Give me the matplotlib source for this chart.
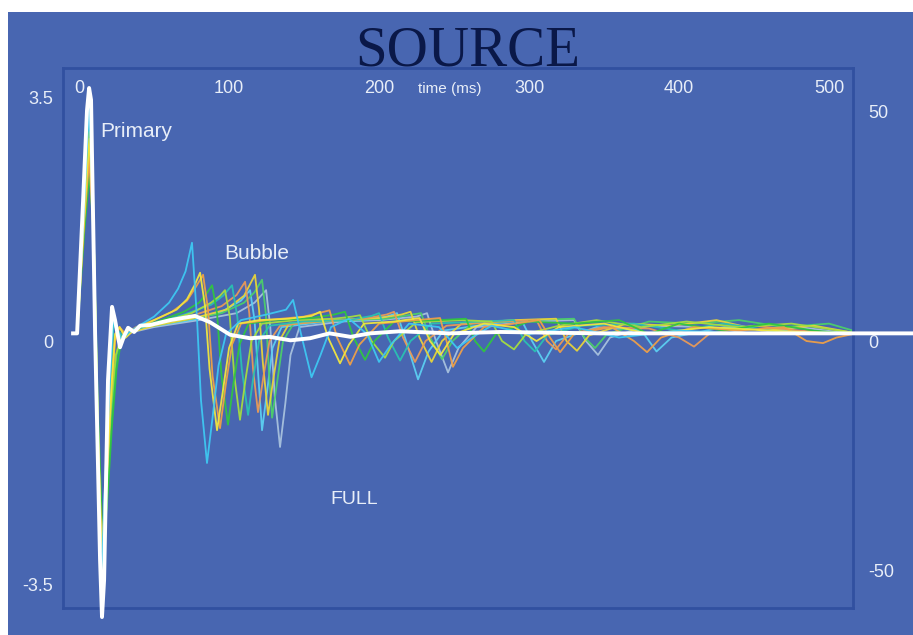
import matplotlib.pyplot as plt
from matplotlib.patches import Rectangle
from matplotlib.transforms import blended_transform_factory

plt.rcParams['font.family'] = ['Liberation Sans', 'DejaVu Sans']

# ---- data: time (ms), amplitude (left axis units) ----
x_ticks = [0, 100, 200, 300, 400, 500]
left_ticks = [-3.5, 0, 3.5]
right_ticks = [-50, 0, 50]

full = [(-4, 0.11), (-1.3, 0.11), (2.7, 2.02), (5.3, 3.31), (6.7, 3.63), (8.0, 3.46),
        (10.7, 0.11), (14.0, -3.14), (15.3, -3.96), (16.7, -3.43), (19.3, -0.56),
        (22.0, 0.49), (24.0, 0.30), (27.3, -0.09), (30.0, 0.07), (32.7, 0.19),
        (36.7, 0.13), (40.7, 0.22), (47.3, 0.23), (60.7, 0.30), (77.3, 0.36),
        (87.3, 0.27), (100.7, 0.09), (114, 0.04), (127, 0.06), (141, 0.01),
        (154, 0.04), (167, 0.11), (181, 0.06), (194, 0.11), (214, 0.14),
        (247, 0.11), (281, 0.13), (347, 0.11), (414, 0.11), (516, 0.11), (556, 0.11)]

cyan = [(-4, 0.1), (-1.3, 0.1), (3.3, 1.9), (6.7, 3.4), (9.3, 2.0), (12, -1.0), (14.7, -3.5),
        (17.3, -2.1), (20.7, -0.5), (22.7, 0.3), (25.3, 0.15), (28.7, 0.02), (33, 0.12),
        (40, 0.22), (50, 0.35), (60, 0.55), (66, 0.75), (71, 1.0), (75.3, 1.41), (78.7, 0.3),
        (81.3, -0.85), (85.3, -1.75), (89, -1.1), (93, -0.35), (98, 0.1), (108, 0.3),
        (125, 0.38), (138, 0.45), (142.7, 0.59), (148, 0.1), (155, -0.52), (161, -0.2),
        (168, 0.2), (180, 0.32), (192, 0.1), (200, -0.3), (208, -0.05), (220, 0.25),
        (240, 0.2), (252, -0.1), (262, 0.05), (275, 0.22), (300, 0.1), (330, 0.2),
        (360, 0.05), (400, 0.15), (450, 0.1), (516, 0.1)]

yellow = [(-4, 0.1), (-1.3, 0.1), (3.5, 1.8), (6.9, 2.9), (9.5, 1.8), (12.3, -1.0), (15, -3.0),
          (17.8, -2.2), (21.5, -0.7), (24, 0.1), (27, 0.2), (31, 0.05), (36, 0.15), (45, 0.25),
          (55, 0.35), (65, 0.45), (72, 0.6), (77, 0.8), (80.7, 0.98), (84, 0.5), (87, -0.4),
          (92, -1.28), (96, -0.7), (100, -0.1), (106, 0.25), (120, 0.3), (140, 0.32),
          (155, 0.36), (160.7, 0.42), (166, 0.05), (174, -0.32), (180, -0.05), (190, 0.25),
          (210, 0.28), (227, 0.33), (234, 0.0), (241, -0.2), (250, 0.1), (270, 0.25),
          (290, 0.2), (305, 0.0), (320, 0.2), (350, 0.25), (380, 0.1), (420, 0.2),
          (460, 0.15), (516, 0.1)]

orange = [(-4, 0.1), (-1.3, 0.1), (3.4, 1.7), (6.8, 2.6), (9.5, 1.6), (12.2, -1.1), (15, -2.9),
          (17.6, -2.3), (21, -0.8), (24, 0.0), (27, 0.2), (31, 0.1), (38, 0.2), (50, 0.3),
          (62, 0.42), (72, 0.58), (78, 0.78), (82.7, 0.95), (86, 0.45), (89, -0.5),
          (94, -1.25), (98, -0.6), (102, -0.05), (108, 0.25), (125, 0.3), (150, 0.35),
          (167, 0.44), (172, 0.05), (180.7, -0.34), (187, -0.05), (200, 0.25), (225, 0.3),
          (240.7, 0.33), (245, 0.0), (249.3, -0.37), (256, -0.1), (270, 0.2), (290, 0.25),
          (307, 0.3), (314, 0.05), (320.7, -0.16), (330, 0.1), (355, 0.2), (370, 0.0),
          (378.7, -0.16), (388, 0.05), (410, 0.2), (440, 0.15), (470, 0.2), (485, 0.0),
          (496, -0.03), (505, 0.05), (516, 0.1)]

green = [(-4, 0.1), (-1.3, 0.1), (3.6, 1.6), (7, 2.4), (9.8, 1.5), (12.6, -1.0), (15.4, -2.7),
         (18.5, -2.4), (22, -1.2), (25, -0.4), (28, 0.0), (32, 0.1), (40, 0.2), (55, 0.3),
         (70, 0.42), (80, 0.55), (85, 0.68), (88.7, 0.8), (92, 0.4), (95, -0.5), (99.3, -1.2),
         (103, -0.6), (107, -0.05), (113, 0.25), (130, 0.3), (155, 0.33), (170, 0.38),
         (177.3, 0.42), (183, 0.05), (190.7, -0.27), (197, 0.0), (210, 0.28), (240, 0.3),
         (258, 0.32), (264, 0.0), (270, -0.15), (278, 0.1), (300, 0.28), (330, 0.25),
         (360, 0.3), (380, 0.1), (400, 0.25), (430, 0.15), (460, 0.25), (490, 0.15), (516, 0.1)]

lime = [(-4, 0.1), (-1.3, 0.1), (3.4, 1.9), (6.8, 3.0), (9.4, 1.9), (12.2, -1.0), (14.9, -3.2),
        (17.7, -2.6), (21, -1.0), (24.5, -0.2), (28, 0.05), (32, 0.12), (42, 0.22), (60, 0.3),
        (75, 0.4), (88, 0.55), (94, 0.65), (97.3, 0.73), (100.5, 0.35), (103.5, -0.5),
        (107.3, -1.13), (111, -0.55), (115, 0.0), (122, 0.25), (145, 0.3), (170, 0.32),
        (182, 0.35), (187.3, 0.37), (195, 0.0), (204, -0.24), (210, 0.0), (225, 0.27),
        (255, 0.3), (275, 0.28), (282, 0.0), (290, -0.12), (298, 0.1), (320, 0.22),
        (345, 0.3), (375, 0.2), (405, 0.28), (440, 0.2), (475, 0.25), (516, 0.12)]

teal = [(-4, 0.1), (-1.3, 0.1), (3.3, 2.0), (6.7, 3.2), (9.3, 2.0), (12, -1.0), (14.7, -3.3),
        (17.4, -2.3), (20.8, -0.6), (23, 0.25), (26, 0.15), (30, 0.05), (36, 0.15), (50, 0.25),
        (70, 0.38), (88, 0.52), (96, 0.65), (102, 0.8), (105.5, 0.35), (108.5, -0.4),
        (112.7, -1.06), (116, -0.55), (120, 0.0), (127, 0.22), (150, 0.28), (180, 0.3),
        (195, 0.36), (200, 0.4), (206, 0.05), (214, -0.28), (221, 0.0), (235, 0.25),
        (270, 0.28), (290, 0.3), (297, 0.0), (304, -0.15), (312, 0.08), (335, 0.22),
        (370, 0.25), (400, 0.15), (430, 0.25), (470, 0.12), (516, 0.1)]

salmon = [(-4, 0.1), (-1.3, 0.1), (3.5, 1.7), (6.9, 2.7), (9.6, 1.7), (12.4, -1.0), (15.2, -2.9),
          (18, -2.3), (21.4, -0.8), (24, 0.05), (27, 0.2), (31, 0.05), (38, 0.18), (55, 0.27),
          (75, 0.36), (95, 0.5), (105, 0.66), (110.7, 0.85), (113.5, 0.4), (116, -0.4),
          (119.3, -1.02), (123, -0.5), (127, 0.0), (134, 0.22), (160, 0.28), (190, 0.32),
          (205, 0.38), (210, 0.42), (216, 0.05), (224, -0.3), (231, 0.0), (245, 0.22),
          (280, 0.28), (305, 0.3), (312, 0.0), (318, -0.12), (326, 0.1), (350, 0.2),
          (380, 0.18), (400, 0.05), (410, -0.08), (420, 0.1), (450, 0.22), (480, 0.15), (516, 0.1)]

gold = [(-4, 0.1), (-1.3, 0.1), (3.3, 2.1), (6.7, 3.3), (9.3, 2.1), (12, -1.0), (14.7, -3.4),
        (17.4, -2.2), (20.7, -0.5), (22.7, 0.3), (25.3, 0.15), (29, 0.02), (34, 0.12), (50, 0.22),
        (75, 0.32), (98, 0.45), (110, 0.65), (117.3, 0.95), (120, 0.45), (122.5, -0.3),
        (126, -1.06), (129.5, -0.55), (133.5, 0.0), (140, 0.25), (170, 0.3), (200, 0.33),
        (215, 0.38), (221, 0.42), (227, 0.05), (235, -0.3), (242, 0.0), (255, 0.25),
        (290, 0.3), (318, 0.32), (325, 0.0), (332, -0.14), (340, 0.08), (365, 0.25),
        (395, 0.22), (425, 0.3), (455, 0.15), (490, 0.22), (516, 0.12)]

green2 = [(-4, 0.1), (-1.3, 0.1), (3.5, 1.8), (6.9, 2.8), (9.5, 1.8), (12.3, -1.0), (15.1, -3.0),
          (18, -2.5), (21.8, -1.0), (25, -0.2), (28.5, 0.05), (33, 0.12), (45, 0.2), (70, 0.3),
          (95, 0.4), (110, 0.55), (117, 0.7), (122, 0.88), (124.5, 0.4), (126.5, -0.4),
          (128.7, -1.1), (132, -0.6), (136, 0.0), (143, 0.25), (175, 0.3), (205, 0.32),
          (222, 0.38), (228, 0.4), (234, 0.05), (242, -0.26), (249, 0.0), (262, 0.25),
          (300, 0.3), (330, 0.32), (337, 0.05), (344, -0.1), (352, 0.1), (380, 0.28),
          (410, 0.25), (440, 0.3), (470, 0.2), (500, 0.25), (516, 0.15)]

greyblue = [(-4, 0.1), (-1.3, 0.1), (3.3, 2.0), (6.7, 3.1), (9.3, 2.0), (12, -1.0), (14.7, -3.2),
            (17.4, -2.2), (20.7, -0.5), (22.7, 0.3), (25.3, 0.15), (29, 0.02), (34, 0.12),
            (50, 0.2), (80, 0.3), (105, 0.4), (117, 0.55), (124.7, 0.73), (127.5, 0.2),
            (130.5, -0.8), (134, -1.52), (137.5, -0.9), (141, -0.2), (147, 0.2), (175, 0.28),
            (200, 0.3), (225, 0.35), (232, 0.4), (238, 0.0), (246, -0.45), (253, -0.1),
            (265, 0.2), (300, 0.28), (330, 0.3), (338, 0.0), (346, -0.2), (354, 0.05),
            (380, 0.22), (420, 0.2), (450, 0.1), (480, 0.2), (516, 0.1)]

skyblue = [(-4, 0.1), (-1.3, 0.1), (3.3, 2.2), (6.7, 3.45), (9.3, 2.2), (12, -1.0), (14.7, -3.5),
           (17.4, -2.0), (20.7, -0.4), (22.7, 0.35), (25.3, 0.15), (29, 0.02), (34, 0.15),
           (50, 0.22), (75, 0.3), (95, 0.42), (108, 0.58), (114, 0.73), (117, 0.3),
           (119.5, -0.5), (122, -1.28), (125.5, -0.7), (129, -0.1), (135, 0.2), (165, 0.28),
           (190, 0.3), (205, 0.35), (212, 0.4), (218, 0.0), (226, -0.55), (233, -0.15),
           (243, 0.15), (275, 0.25), (295, 0.3), (302, 0.0), (310, -0.3), (318, 0.0),
           (345, 0.2), (375, 0.15), (385, -0.15), (395, 0.05), (430, 0.2), (470, 0.15), (516, 0.1)]

traces = [(greyblue, '#a8c2de'), (skyblue, '#5ccff2'), (green2, '#4ccf6a'), (gold, '#e8d43a'),
          (salmon, '#e99a58'), (teal, '#2ac2b2'), (lime, '#a6de3e'), (green, '#30c640'),
          (orange, '#efa048'), (yellow, '#f2e63e'), (cyan, '#3ec8f2')]

BLUE = '#4866b1'
EDGE = '#3150a0'
LABEL = '#e8eef8'

fig = plt.figure(figsize=(9.13, 6.35), dpi=100, facecolor='white')
fig.patches.append(Rectangle((8 / 913, 0), 1, 1 - 12 / 635, transform=fig.transFigure,
                             facecolor=BLUE, edgecolor='none', zorder=-1))

ax = fig.add_axes([63 / 913, 1 - 608 / 635, 790 / 913, 540 / 635])
ax.set_facecolor(BLUE)
for s in ax.spines.values():
    s.set_color(EDGE)
    s.set_linewidth(2)

for tr, c in traces:
    ax.plot([p[0] for p in tr], [p[1] for p in tr], color=c, lw=1.3, alpha=0.95, zorder=2,
            solid_joinstyle='round')
ax.plot([p[0] for p in full], [p[1] for p in full], color='white', lw=2.8, zorder=3,
        clip_on=False, solid_joinstyle='round')

ax.set_xlim(-10.7, 516)
ax.set_ylim(-3.83, 3.917)

ax.xaxis.tick_top()
ax.set_xticks(x_ticks)
ax.set_xticklabels([str(v) for v in x_ticks])
ax.tick_params(axis='x', length=0, pad=-21, labelsize=13, labelcolor=LABEL)
ax.set_yticks(left_ticks)
ax.set_yticklabels(['-3.5', '0', '3.5'])
ax.tick_params(axis='y', length=0, pad=7, labelsize=13, labelcolor=LABEL)

ax2 = ax.twinx()
ax2.set_ylim(-3.83 * 15.2, 3.917 * 15.2)
ax2.set_yticks(right_ticks)
ax2.set_yticklabels([str(v) for v in right_ticks])
ax2.tick_params(axis='y', length=0, pad=11, labelsize=13, labelcolor=LABEL)
for s in ax2.spines.values():
    s.set_visible(False)

trans = blended_transform_factory(ax.transData, ax.transAxes)
ax.text(247, 0.953, 'time (ms)', transform=trans, ha='center', va='baseline',
        fontsize=11, color=LABEL)

ax.text(38, 3.0, 'Primary', ha='center', va='center', fontsize=15, color=LABEL, zorder=4)
ax.text(118.7, 1.26, 'Bubble', ha='center', va='center', fontsize=15, color=LABEL, zorder=4)
ax.text(183.3, -2.28, 'FULL', ha='center', va='center', fontsize=14, color=LABEL, zorder=4)

fig.text(468 / 913, 1 - 66 / 635, 'SOURCE', ha='center', va='baseline',
         family=['Liberation Serif', 'DejaVu Serif'], fontsize=41, color='#0a1848')

fig.savefig('out.png', dpi=100, facecolor=fig.get_facecolor())
